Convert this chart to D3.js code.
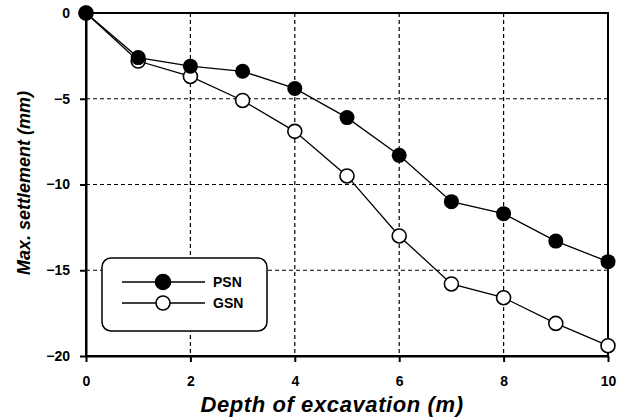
<!DOCTYPE html>
<html>
<head>
<meta charset="utf-8">
<script src="https://cdn.jsdelivr.net/npm/d3@7"></script>
<style>
  body { margin: 0; background: #fff; }
  svg text { font-family: "Liberation Sans", Arial, sans-serif; font-weight: bold; fill: #000; }
  .grid line { stroke: #000; stroke-width: 1.2; stroke-dasharray: 4,3; }
  .axis path, .axis line { stroke: #000; stroke-width: 2; }
</style>
</head>
<body>
<svg id="chart" width="626" height="418"></svg>
<script>
// depth of excavation (m)
var depth = [0, 1, 2, 3, 4, 5, 6, 7, 8, 9, 10];
// max. settlement (mm)
var psn = [0, -2.6, -3.1, -3.4, -4.4, -6.1, -8.3, -11.0, -11.7, -13.3, -14.5];
var gsn = [0, -2.8, -3.7, -5.1, -6.9, -9.5, -13.0, -15.8, -16.6, -18.1, -19.4];
var xTicks = [0, 2, 4, 6, 8, 10];
var yTicks = [0, -5, -10, -15, -20];
var seriesNames = ["PSN", "GSN"];

var svg = d3.select("#chart");
var margin = { top: 13, right: 18, bottom: 62, left: 86 },
    width = +svg.attr("width"),
    height = +svg.attr("height");

var x = d3.scaleLinear().domain([0, 10]).range([margin.left, width - margin.right]);
var y = d3.scaleLinear().domain([-20, 0]).range([height - margin.bottom, margin.top]);

// dashed grid
var grid = svg.append("g").attr("class", "grid");
grid.selectAll(".vx")
  .data(xTicks.filter(d => d > 0 && d < 10))
  .enter().append("line")
  .attr("x1", d => x(d)).attr("x2", d => x(d))
  .attr("y1", y(0)).attr("y2", y(-20));
grid.selectAll(".hy")
  .data(yTicks.filter(d => d < 0 && d > -20))
  .enter().append("line")
  .attr("x1", x(0)).attr("x2", x(10))
  .attr("y1", d => y(d)).attr("y2", d => y(d));

// frame
svg.append("rect")
  .attr("x", x(0)).attr("y", y(0))
  .attr("width", x(10) - x(0)).attr("height", y(-20) - y(0))
  .attr("fill", "none").attr("stroke", "#000").attr("stroke-width", 2);

svg.append("g")
  .attr("class", "axis")
  .attr("transform", `translate(0,${y(-20)})`)
  .call(d3.axisBottom(x).tickValues(xTicks).tickSize(6).tickPadding(14).tickSizeOuter(0))
  .call(g => g.selectAll("text").style("font-size", "14px"));

svg.append("g")
  .attr("class", "axis")
  .attr("transform", `translate(${x(0)},0)`)
  .call(d3.axisLeft(y).tickValues(yTicks).tickSize(6).tickPadding(10).tickSizeOuter(0))
  .call(g => g.selectAll("text").style("font-size", "14px"));

// lines
var line = d3.line().x((d, i) => x(depth[i])).y(d => y(d));
[psn, gsn].forEach(function(s) {
  svg.append("path")
    .datum(s)
    .attr("d", line)
    .attr("fill", "none")
    .attr("stroke", "#000")
    .attr("stroke-width", 1.3);
});

// markers
svg.append("g").selectAll("circle")
  .data(gsn).enter().append("circle")
  .attr("cx", (d, i) => x(depth[i])).attr("cy", d => y(d))
  .attr("r", 7).attr("fill", "#fff").attr("stroke", "#000").attr("stroke-width", 1.6);
svg.append("g").selectAll("circle")
  .data(psn).enter().append("circle")
  .attr("cx", (d, i) => x(depth[i])).attr("cy", d => y(d))
  .attr("r", 7.5).attr("fill", "#000");

// legend
var lg = svg.append("g").attr("transform", "translate(102,258)");
lg.append("rect")
  .attr("width", 165).attr("height", 73).attr("rx", 9)
  .attr("fill", "#fff").attr("stroke", "#000").attr("stroke-width", 1.5);
seriesNames.forEach(function(name, i) {
  var ly = 24 + i * 21;
  lg.append("line").attr("x1", 20).attr("x2", 103).attr("y1", ly).attr("y2", ly)
    .attr("stroke", "#000").attr("stroke-width", 1.3);
  lg.append("circle").attr("cx", 61).attr("cy", ly).attr("r", i === 0 ? 7.5 : 7)
    .attr("fill", i === 0 ? "#000" : "#fff").attr("stroke", "#000").attr("stroke-width", 1.6);
  lg.append("text").attr("x", 111).attr("y", ly + 5)
    .style("font-size", "14px").text(name);
});

// axis titles
svg.append("text")
  .attr("x", 332).attr("y", 412)
  .attr("text-anchor", "middle")
  .style("font-size", "22px").style("font-style", "italic")
  .style("letter-spacing", "0.6px")
  .text("Depth of excavation (m)");

svg.append("text")
  .attr("transform", "translate(30,183) rotate(-90)")
  .attr("text-anchor", "middle")
  .style("font-size", "18px").style("font-style", "italic")
  .text("Max. settlement (mm)");
</script>
</body>
</html>
